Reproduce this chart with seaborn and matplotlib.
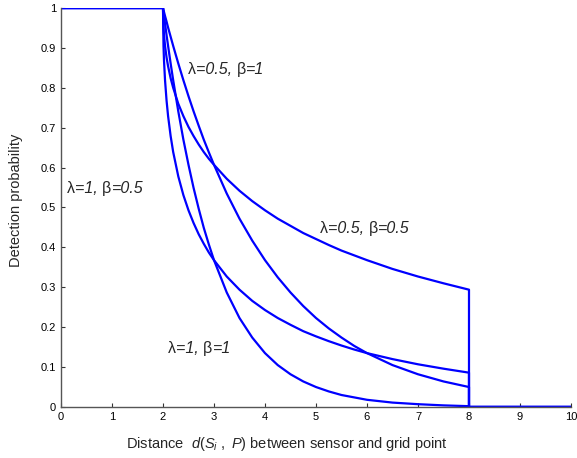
import matplotlib
matplotlib.use("Agg")
import matplotlib.pyplot as plt
import pandas as pd
import seaborn as sns

dist = [2, 2.01, 2.02, 2.04, 2.07, 2.1, 2.15, 2.2, 2.3, 2.4, 2.5, 2.6, 2.7,
        2.8, 2.9, 3, 3.25, 3.5, 3.75, 4, 4.25, 4.5, 4.75, 5, 5.25, 5.5,
        5.75, 6, 6.5, 7, 7.5, 8]

prob_l05_b05 = [1, 0.951, 0.932, 0.905, 0.876, 0.854, 0.824, 0.800, 0.760,
                0.729, 0.702, 0.679, 0.658, 0.639, 0.622, 0.607, 0.572,
                0.542, 0.516, 0.493, 0.472, 0.454, 0.436, 0.421, 0.406,
                0.392, 0.380, 0.368, 0.346, 0.327, 0.310, 0.294]
prob_l05_b1 = [1, 0.995, 0.990, 0.980, 0.966, 0.951, 0.928, 0.905, 0.861,
               0.819, 0.779, 0.741, 0.705, 0.670, 0.638, 0.607, 0.535,
               0.472, 0.417, 0.368, 0.325, 0.287, 0.253, 0.223, 0.197,
               0.174, 0.153, 0.135, 0.105, 0.082, 0.064, 0.050]
prob_l1_b05 = [1, 0.905, 0.868, 0.819, 0.768, 0.729, 0.679, 0.639, 0.578,
               0.531, 0.493, 0.461, 0.433, 0.409, 0.387, 0.368, 0.327,
               0.294, 0.266, 0.243, 0.223, 0.206, 0.190, 0.177, 0.165,
               0.154, 0.144, 0.135, 0.120, 0.107, 0.096, 0.086]
prob_l1_b1 = [1, 0.990, 0.980, 0.961, 0.932, 0.905, 0.861, 0.819, 0.741,
              0.670, 0.607, 0.549, 0.497, 0.449, 0.407, 0.368, 0.287,
              0.223, 0.174, 0.135, 0.105, 0.082, 0.064, 0.050, 0.039,
              0.030, 0.024, 0.018, 0.011, 0.007, 0.004, 0.002]

curves = {"l05_b05": prob_l05_b05, "l05_b1": prob_l05_b1,
          "l1_b05": prob_l1_b05, "l1_b1": prob_l1_b1}

x_ticks = [0, 1, 2, 3, 4, 5, 6, 7, 8, 9, 10]
y_ticks = [0, 0.1, 0.2, 0.3, 0.4, 0.5, 0.6, 0.7, 0.8, 0.9, 1]
y_tick_labels = ["0", "0.1", "0.2", "0.3", "0.4", "0.5", "0.6", "0.7",
                 "0.8", "0.9", "1"]

# curve labels: (lambda, beta)
label_params = [("0.5", "1"), ("1", "0.5"), ("0.5", "0.5"), ("1", "1")]

sns.set_style("ticks")
plt.rcParams["font.family"] = ["Liberation Sans", "DejaVu Sans"]
plt.rcParams["mathtext.fontset"] = "custom"
plt.rcParams["mathtext.rm"] = "Liberation Sans"
plt.rcParams["mathtext.it"] = "Liberation Sans:italic"

rows = []
for name, vals in curves.items():
    xs = [0] + dist + [8, 10]
    ys = [1] + vals + [0, 0]
    for x, y in zip(xs, ys):
        rows.append({"curve": name, "d": x, "p": y})
df = pd.DataFrame(rows)

fig = plt.figure(figsize=(5.77, 4.58), dpi=100)
ax = fig.add_axes([0.1057, 0.1114, 0.8839, 0.8711])

sns.lineplot(data=df, x="d", y="p", hue="curve", units="curve",
             estimator=None, sort=False, palette=["#0000ff"] * 4,
             linewidth=1.6, legend=False, ax=ax)

ax.set_xlim(0, 10)
ax.set_ylim(0, 1)
ax.set_xticks(x_ticks)
ax.set_xticklabels([str(t) for t in x_ticks])
ax.set_yticks(y_ticks)
ax.set_yticklabels(y_tick_labels)
ax.tick_params(direction="in", length=3, width=0.8, labelsize=8,
               colors="#333333", labelcolor="black", pad=3.5)
sns.despine(ax=ax)
for s in ["left", "bottom"]:
    ax.spines[s].set_color("#555555")
    ax.spines[s].set_linewidth(1.0)

ax.set_xlabel(r"Distance  $\mathit{d(S_i\ ,\ P)}$ between sensor and grid point",
              fontsize=10.5)
ax.set_ylabel("Detection probability", fontsize=10.5)
ax.xaxis.set_label_coords(0.443, -0.07)
ax.yaxis.set_label_coords(-0.074, 0.519)


def curve_label(x, y, lam, beta):
    # greek letters upright, the rest italic, pieces chained left to right
    parts = [("λ", "normal"), ("=" + lam + ", ", "italic"),
             ("β", "normal"), ("=" + beta, "italic")]
    prev = None
    for txt, style in parts:
        if prev is None:
            prev = ax.text(x, y, txt, fontsize=11.5, fontstyle=style,
                           va="baseline", ha="left")
        else:
            prev = ax.annotate(txt, xy=(1, y), xycoords=(prev, "data"),
                               fontsize=11.5, fontstyle=style,
                               va="baseline", ha="left")


label_pos = [(2.49, 0.835), (0.12, 0.536), (5.08, 0.436), (2.10, 0.135)]
for (x, y), (lam, beta) in zip(label_pos, label_params):
    curve_label(x, y, lam, beta)

fig.savefig("out.png", dpi=100)
